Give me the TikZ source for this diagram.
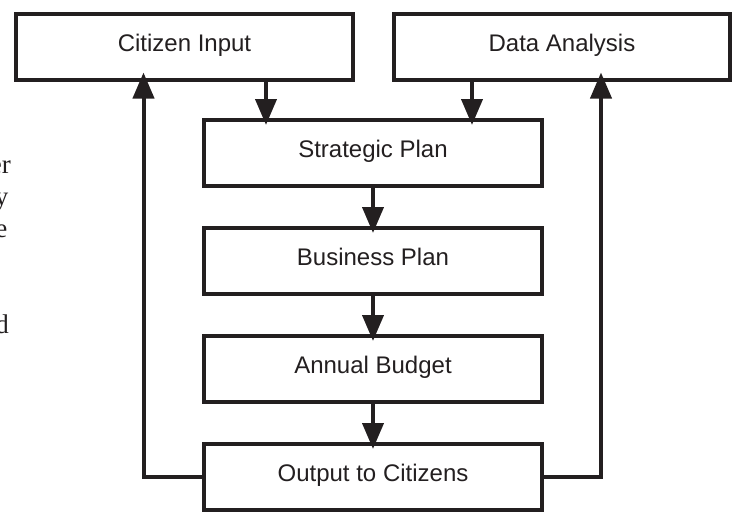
\documentclass[tikz,border=0pt]{standalone}
\usepackage{fontspec}
\setmainfont{Liberation Serif}
\setsansfont{Liberation Sans}
\usetikzlibrary{arrows.meta}
\definecolor{mainBlack}{RGB}{35,31,32}

\begin{document}
\begin{tikzpicture}[x=1pt, y=-1pt,
    box/.style={draw=mainBlack, line width=4pt, minimum height=66pt,
        text height=17pt, text depth=8pt, text=mainBlack,
        font=\sffamily\fontsize{24}{28}\selectfont},
    flow/.style={-{Triangle[length=26pt, width=21pt]}, line width=4pt,
        mainBlack, shorten >=-7pt},
    frag/.style={anchor=base east, inner sep=0pt, text=mainBlack,
        font=\fontsize{27}{32}\selectfont}]
    \useasboundingbox (0,0) rectangle (737,514);
    \clip (0,0) rectangle (737,514);

    \node[box, minimum width=337pt] (cit) at (184.5,46.5) {Citizen Input};
    \node[box, minimum width=336pt] (dat) at (562,46.5) {Data Analysis};
    \node[box, minimum width=338pt] (strat) at (373,153) {Strategic Plan};
    \node[box, minimum width=338pt] (bus) at (373,261) {Business Plan};
    \node[box, minimum width=338pt] (bud) at (373,369) {Annual Budget};
    \node[box, minimum width=338pt] (out) at (373,477) {Output to Citizens};

    \coordinate (citX) at (266,0);
    \coordinate (datX) at (472,0);
    \coordinate (leftX) at (143.5,0);
    \coordinate (rightX) at (601,0);

    \draw[flow] (cit.south -| citX) -- (strat.north -| citX);
    \draw[flow] (dat.south -| datX) -- (strat.north -| datX);
    \draw[flow] (strat) -- (bus);
    \draw[flow] (bus) -- (bud);
    \draw[flow] (bud) -- (out);
    % feedback to the top row
    \draw[flow, shorten >=-9pt] (out.west) -| (cit.south -| leftX);
    \draw[flow, shorten >=-9pt] (out.east) -| (dat.south -| rightX);

    % cut-off words of the text beside the figure
    \node[frag] (fragA) at (11,173) {er};
    \node[frag] (fragB) at (8.5,205) {y};
    \node[frag] (fragC) at (7.5,237) {e};
    \node[frag] (fragD) at (9,333) {d};
\end{tikzpicture}
\end{document}
